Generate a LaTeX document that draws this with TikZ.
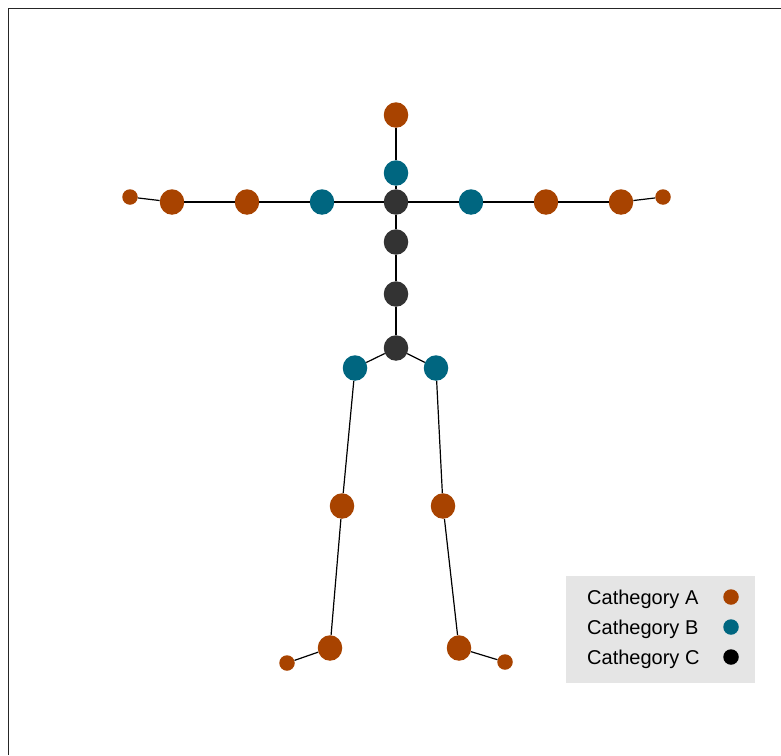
\documentclass[tikz,border=0pt]{standalone}
\usepackage{fontspec}
\setmainfont{Liberation Sans}
\definecolor{catA}{HTML}{A84300}
\definecolor{catB}{HTML}{006680}
\definecolor{catC}{HTML}{333333}
\definecolor{legbg}{HTML}{E5E5E5}
\tikzset{
  big/.style={ellipse,inner sep=0pt,minimum width=24.5pt,minimum height=25.5pt},
  small/.style={circle,inner sep=0pt,minimum size=15.5pt},
  na/.style={fill=catA},
  nb/.style={fill=catB},
  nc/.style={fill=catC},
  bone/.style={draw=black,line width=1.2pt},
  legtext/.style={anchor=base west,font=\fontsize{20pt}{24pt}\selectfont,inner sep=0pt},
  legdot/.style={circle,inner sep=0pt,minimum size=15.5pt}
}
\usetikzlibrary{shapes.geometric}
\begin{document}
\begin{tikzpicture}[x=1pt,y=-1pt]
\useasboundingbox (0,0) rectangle (781,755);
\draw[draw=black!85,line width=1.5pt] (8.5,755) -- (8.5,8.5) -- (781,8.5);
% nodes
\node[big,na] (head) at (396,115) {};
\node[big,nb] (neck) at (396,173) {};
\node[big,nc] (sho) at (396,202) {};
\node[big,nc] (sp1) at (396,242) {};
\node[big,nc] (sp2) at (396,294) {};
\node[big,nc] (pel) at (396,348) {};
\node[big,nb] (ls) at (322,202) {};
\node[big,na] (le) at (247,202) {};
\node[big,na] (lw) at (172,202) {};
\node[small,na] (lh) at (130,197) {};
\node[big,nb] (rs) at (471,202) {};
\node[big,na] (re) at (546,202) {};
\node[big,na] (rw) at (621,202) {};
\node[small,na] (rh) at (663,197) {};
\node[big,nb] (lhip) at (355,368) {};
\node[big,nb] (rhip) at (436,368) {};
\node[big,na] (lk) at (342,506) {};
\node[big,na] (rk) at (443,506) {};
\node[big,na] (la) at (330,648) {};
\node[big,na] (ra) at (459,648) {};
\node[small,na] (lf) at (287,663) {};
\node[small,na] (rf) at (505,662) {};
% bones
\draw[bone] (head) -- (neck);
\draw[bone] (neck) -- (sho);
\draw[bone] (sho) -- (sp1);
\draw[bone] (sp1) -- (sp2);
\draw[bone] (sp2) -- (pel);
\draw[bone] (sho) -- (ls);
\draw[bone] (ls) -- (le);
\draw[bone] (le) -- (lw);
\draw[bone] (lw) -- (lh);
\draw[bone] (sho) -- (rs);
\draw[bone] (rs) -- (re);
\draw[bone] (re) -- (rw);
\draw[bone] (rw) -- (rh);
\draw[bone] (pel) -- (lhip);
\draw[bone] (pel) -- (rhip);
\draw[bone] (lhip) -- (lk);
\draw[bone] (rhip) -- (rk);
\draw[bone] (lk) -- (la);
\draw[bone] (rk) -- (ra);
\draw[bone] (la) -- (lf);
\draw[bone] (ra) -- (rf);
% legend
\node[fill=legbg,minimum width=189pt,minimum height=107pt,inner sep=0pt,anchor=north west] (leg) at (566,576) {};
\node[legtext] (ta) at (587,604.5) {Cathegory A};
\node[legtext] (tb) at (587,634.5) {Cathegory B};
\node[legtext] (tc) at (587,664.5) {Cathegory C};
\node[legdot,fill=catA] (da) at (731,597) {};
\node[legdot,fill=catB] (db) at (731,627) {};
\node[legdot,fill=black] (dc) at (731,657) {};
\end{tikzpicture}
\end{document}
